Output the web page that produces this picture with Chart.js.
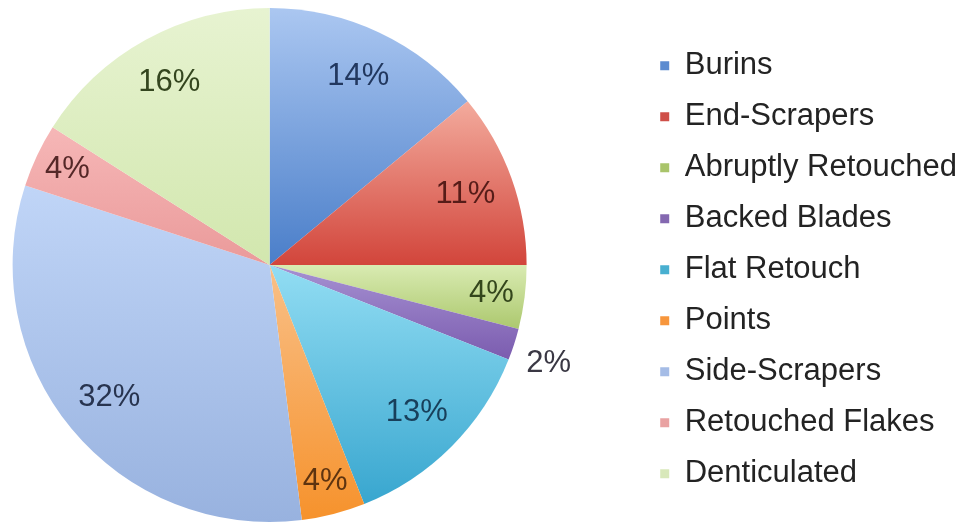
<!DOCTYPE html>
<html>
<head>
<meta charset="utf-8">
<title>Tool types</title>
<script src="https://cdn.jsdelivr.net/npm/chart.js@4/dist/chart.umd.min.js"></script>
<style>
  html, body { margin: 0; padding: 0; background: #ffffff; overflow: hidden; }
  #page { position: relative; width: 970px; height: 526px; overflow: hidden; }
  /* the canvas runs past the left edge so the pie sits left of the legend */
  #wrap { position: absolute; left: -101px; top: 0; width: 1071px; height: 526px; }
</style>
</head>
<body>
<div id="page"><div id="wrap"><canvas id="chart"></canvas></div></div>
<script>
// Tool categories, clockwise from twelve o'clock
const categories = [
  'Burins', 'End-Scrapers', 'Abruptly Retouched', 'Backed Blades',
  'Flat Retouch', 'Points', 'Side-Scrapers', 'Retouched Flakes', 'Denticulated'
];
// Share of each category, in percent
const shares = [14, 11, 4, 2, 13, 4, 32, 4, 16];

// Base colour of each slice (used by the legend swatches)
const baseColors = ['#5b8bd0', '#cf4f48', '#a9c46a', '#8468b0', '#48afd0', '#f7963c', '#a5bce6', '#e9a2a2', '#d8e8ba'];
// Light (top) and dark (bottom) ends of each slice's vertical shading
const topColors    = ['#abc7f1', '#f3ab9d', '#d9ebb2', '#a691d2', '#92ddf3', '#f9c088', '#c0d5f7', '#f6b7b7', '#e7f3d1'];
const bottomColors = ['#4a7ec9', '#d2453b', '#acc86e', '#7b5caf', '#38a6cf', '#f6922c', '#98b2df', '#ea9a9a', '#d2e7ae'];
// Colour of the percentage label on each slice
const labelColors  = ['#22385f', '#561c18', '#34461c', '#3a3844', '#183f5a', '#5e3410', '#28344f', '#552828', '#34461f'];

const FONT = '"Liberation Sans", Arial, Helvetica, sans-serif';
const LABEL_SIZE = 31;

// Give every slice its own top-to-bottom gradient spanning the slice's height
const sliceShading = {
  id: 'sliceShading',
  beforeDatasetsDraw(chart) {
    const ctx = chart.ctx;
    chart.getDatasetMeta(0).data.forEach((arc, i) => {
      const p = arc.getProps(['x', 'y', 'startAngle', 'endAngle', 'outerRadius']);
      const ys = [p.y, p.y + p.outerRadius * Math.sin(p.startAngle), p.y + p.outerRadius * Math.sin(p.endAngle)];
      // include the very top / bottom of the circle if the slice crosses them
      [-Math.PI / 2, Math.PI / 2, 3 * Math.PI / 2, 5 * Math.PI / 2].forEach(a => {
        if (a > p.startAngle && a < p.endAngle) ys.push(p.y + p.outerRadius * Math.sin(a));
      });
      const y0 = Math.min(...ys), y1 = Math.max(...ys);
      const g = ctx.createLinearGradient(0, y0, 0, Math.max(y1, y0 + 1));
      g.addColorStop(0, topColors[i]);
      g.addColorStop(1, bottomColors[i]);
      arc.options = Object.assign({}, arc.options, { backgroundColor: g });
    });
  }
};

// Percentage labels: inside the slice, pushed outward for narrow slices,
// and set just outside the rim for the very thin ones
const sliceLabels = {
  id: 'sliceLabels',
  afterDatasetsDraw(chart) {
    const ctx = chart.ctx;
    const values = chart.data.datasets[0].data;
    const total = values.reduce((a, b) => a + b, 0);
    ctx.save();
    ctx.font = LABEL_SIZE + 'px ' + FONT;
    ctx.textAlign = 'center';
    ctx.textBaseline = 'middle';
    chart.getDatasetMeta(0).data.forEach((arc, i) => {
      const p = arc.getProps(['x', 'y', 'startAngle', 'endAngle', 'outerRadius']);
      const pct = values[i] / total * 100;
      const text = Math.round(pct) + '%';
      const mid = (p.startAngle + p.endAngle) / 2;
      const c = Math.cos(mid), s = Math.sin(mid);
      let x, y;
      if (pct < 3) {
        const r = p.outerRadius * 1.05;
        const w = ctx.measureText(text).width;
        x = p.x + r * c + Math.sign(c) * w / 2;
        y = p.y + r * s + Math.sign(s) * LABEL_SIZE / 2;
      } else {
        const r = p.outerRadius * (pct < 10 ? 0.87 : 0.81);
        x = p.x + r * c;
        y = p.y + r * s;
      }
      ctx.fillStyle = labelColors[i];
      ctx.fillText(text, x, y);
    });
    ctx.restore();
  }
};

new Chart(document.getElementById('chart'), {
  type: 'pie',
  data: {
    labels: categories,
    datasets: [{
      data: shares,
      backgroundColor: baseColors,
      borderWidth: 0
    }]
  },
  options: {
    responsive: true,
    maintainAspectRatio: false,
    animation: false,
    layout: { padding: { left: 0, right: 3, top: 8, bottom: 4 } },
    plugins: {
      legend: {
        position: 'right',
        align: 'center',
        title: { display: true, text: '', padding: 0, font: { size: 8 } },
        labels: {
          boxWidth: 9,
          boxHeight: 9,
          padding: 20,
          color: '#232323',
          font: { family: FONT, size: 31 }
        }
      },
      tooltip: { enabled: false }
    }
  },
  plugins: [sliceShading, sliceLabels]
});
</script>
</body>
</html>
